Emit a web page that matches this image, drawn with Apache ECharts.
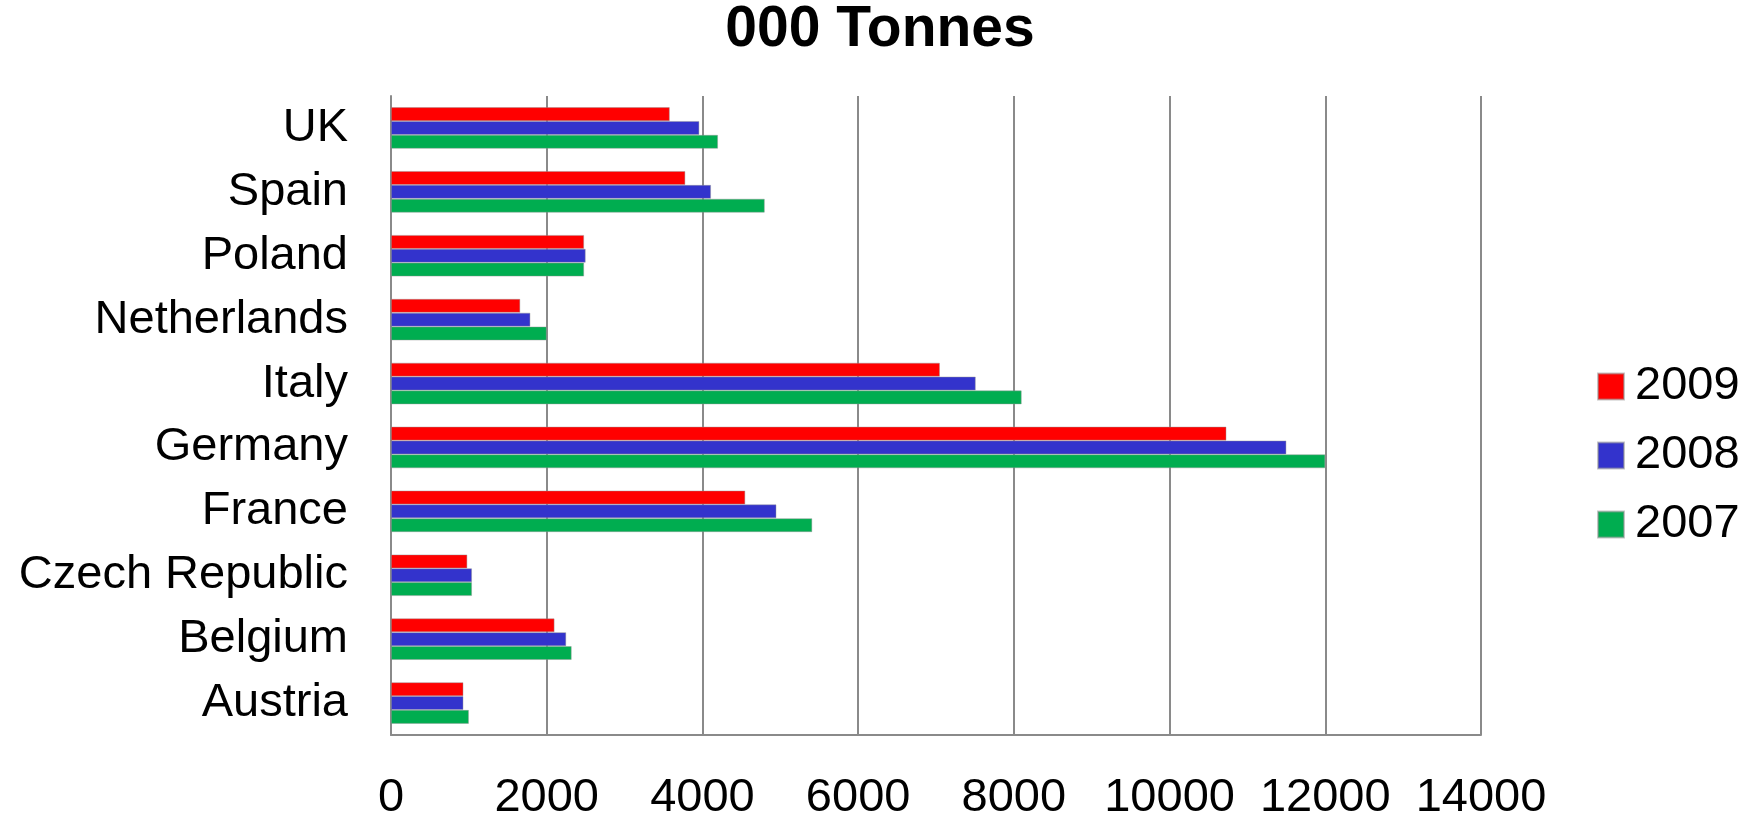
<!DOCTYPE html>
<html>
<head>
<meta charset="utf-8">
<title>000 Tonnes</title>
<script src="https://cdn.jsdelivr.net/npm/echarts@6/dist/echarts.min.js"></script>
<style>
  html, body { margin: 0; padding: 0; background: #ffffff; }
  #chart { width: 1755px; height: 822px; }
</style>
</head>
<body>
<div id="chart"></div>
<script>
// Countries, listed bottom to top on the category axis
const countries = ['Austria', 'Belgium', 'Czech Republic', 'France', 'Germany',
                   'Italy', 'Netherlands', 'Poland', 'Spain', 'UK'];

// Values in thousand tonnes, same order as countries
const values2009 = [930, 2100, 980, 4550, 10730, 7050, 1660, 2480, 3780, 3580];
const values2008 = [930, 2250, 1040, 4950, 11500, 7510, 1790, 2500, 4110, 3960];
const values2007 = [1000, 2320, 1040, 5410, 12000, 8100, 2000, 2480, 4800, 4200];

const years = ['2009', '2008', '2007'];
const valueTicks = [0, 2000, 4000, 6000, 8000, 10000, 12000, 14000];

const FONT = '"Liberation Sans", Arial, sans-serif';
const GRID_GRAY = '#8a8a8a';

const chart = echarts.init(document.getElementById('chart'), null, { renderer: 'canvas' });

const barStyle = (color) => ({
  color: color,
  borderColor: 'rgba(150,150,150,0.55)',
  borderWidth: 0.8
});

chart.setOption({
  animation: false,
  backgroundColor: '#ffffff',
  textStyle: { fontFamily: FONT },
  title: {
    text: '000 Tonnes',
    left: 880,
    textAlign: 'center',
    top: 2,
    padding: 0,
    textStyle: { fontFamily: FONT, fontSize: 57, fontWeight: 'bold', color: '#000000' }
  },
  legend: {
    data: years,
    orient: 'vertical',
    left: 1597,
    top: 363,
    padding: 0,
    itemWidth: 26,
    itemHeight: 26,
    itemGap: 22,
    icon: 'rect',
    textStyle: { fontFamily: FONT, fontSize: 47, color: '#000000', padding: [0, 0, 0, 6], lineHeight: 47 }
  },
  grid: {
    left: 391,
    right: 274,
    top: 96,
    bottom: 81,
    containLabel: false
  },
  xAxis: {
    type: 'value',
    min: valueTicks[0],
    max: valueTicks[valueTicks.length - 1],
    interval: valueTicks[1] - valueTicks[0],
    axisLine: { show: true, lineStyle: { color: GRID_GRAY, width: 2 } },
    axisTick: { show: false },
    splitLine: { show: true, lineStyle: { color: GRID_GRAY, width: 2 } },
    axisLabel: {
      fontFamily: FONT,
      fontSize: 47,
      color: '#000000',
      margin: 40,
      formatter: (v) => String(v)
    }
  },
  yAxis: {
    type: 'category',
    data: countries,
    axisLine: { show: true, lineStyle: { color: GRID_GRAY, width: 2 } },
    axisTick: { show: false },
    splitLine: { show: false },
    axisLabel: {
      fontFamily: FONT,
      fontSize: 47,
      color: '#000000',
      margin: 43
    }
  },
  series: [
    {
      name: '2009', type: 'bar', data: values2009,
      barGap: '0%', barCategoryGap: '35%',
      itemStyle: barStyle('#FF0000')
    },
    {
      name: '2008', type: 'bar', data: values2008,
      barGap: '0%', barCategoryGap: '35%',
      itemStyle: barStyle('#3333CC')
    },
    {
      name: '2007', type: 'bar', data: values2007,
      barGap: '0%', barCategoryGap: '35%',
      itemStyle: barStyle('#00AD50')
    }
  ]
});
</script>
</body>
</html>
